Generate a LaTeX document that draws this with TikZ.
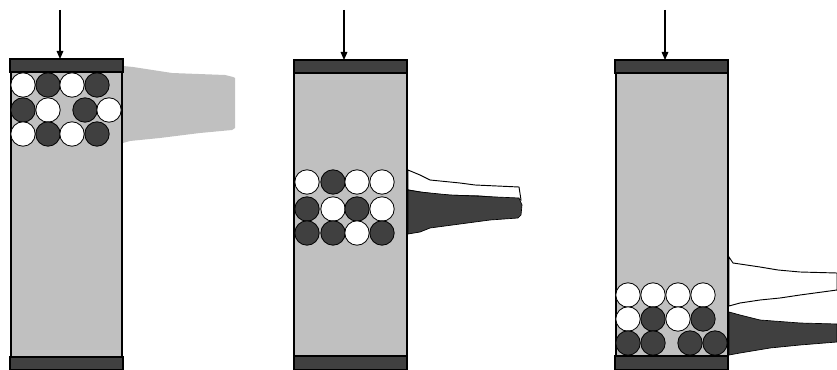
\documentclass[tikz,border=0pt]{standalone}
\usetikzlibrary{arrows.meta}
\definecolor{colgray}{HTML}{C0C0C0}
\definecolor{darkball}{HTML}{404040}
\tikzset{
  colbody/.style={fill=colgray, draw=black, line width=0.8pt},
  capbar/.style={fill=darkball, draw=black, line width=0.8pt},
  wball/.style={circle, fill=white, draw=black, line width=0.6pt, minimum size=18.3pt, inner sep=0pt},
  dball/.style={circle, fill=darkball, draw=black, line width=0.6pt, minimum size=18.3pt, inner sep=0pt},
  load/.style={-{Triangle[length=6pt,width=5pt]}, line width=0.8pt},
  lightprof/.style={fill=colgray, draw=none},
  whiteprof/.style={fill=white, draw=black, line width=0.7pt},
  darkprof/.style={fill=darkball, draw=black, line width=0.5pt},
}
\begin{document}
\begin{tikzpicture}[x=0.75pt,y=-0.75pt]
\useasboundingbox (0,0) rectangle (837,370);
% ---------- column 1 ----------
\path[lightprof] (123,66) -- (133,67) -- (172,73) -- (225,75) -- (233,77) -- (235,78) -- (235,128) -- (232,130) -- (200,133) -- (160,138) -- (130,141) -- (123,143) -- cycle;
\draw[colbody] (11,72) rectangle (122,357);
\draw[capbar] (10,59) rectangle (123,72);
\draw[capbar] (10,357) rectangle (123,370);
\node[wball] (a11) at (23,85) {};
\node[dball] (a12) at (48,85) {};
\node[wball] (a13) at (72,85) {};
\node[dball] (a14) at (97,85) {};
\node[dball] (a21) at (23,110) {};
\node[wball] (a22) at (48,110) {};
\node[dball] (a23) at (85,110) {};
\node[wball] (a24) at (109,110) {};
\node[wball] (a31) at (23,134) {};
\node[dball] (a32) at (48,134) {};
\node[wball] (a33) at (72,134) {};
\node[dball] (a34) at (97,134) {};
\coordinate (s1) at (60,10);
\coordinate (e1) at (60,59);
\draw[load] (s1) -- (e1);
% ---------- column 2 ----------
\path[whiteprof] (408,170) -- (420,175) -- (430,180) -- (460,183) -- (475,185) -- (519,187) -- (521,200) -- (480,196) -- (440,195) -- (420,192) -- (408,190) -- cycle;
\path[darkprof] (408,190) -- (420,192) -- (450,195) -- (519,198) -- (522,205) -- (521,215) -- (518,218) -- (490,220) -- (460,224) -- (430,228) -- (420,232) -- (408,234) -- cycle;
\draw[colbody] (294,73) rectangle (407,356);
\draw[capbar] (294,60) rectangle (407,73);
\draw[capbar] (294,356) rectangle (407,370);
\node[wball] (b11) at (307,182) {};
\node[dball] (b12) at (333,182) {};
\node[wball] (b13) at (357,182) {};
\node[wball] (b14) at (382,182) {};
\node[dball] (b21) at (307,209) {};
\node[wball] (b22) at (333,209) {};
\node[dball] (b23) at (357,209) {};
\node[wball] (b24) at (382,209) {};
\node[dball] (b31) at (307,233) {};
\node[dball] (b32) at (333,233) {};
\node[wball] (b33) at (357,233) {};
\node[dball] (b34) at (382,233) {};
\coordinate (s2) at (344,10);
\coordinate (e2) at (344,60);
\draw[load] (s2) -- (e2);
% ---------- column 3 ----------
\path[whiteprof] (729,257) -- (733,263) -- (760,267) -- (778,270) -- (800,272) -- (837,273) -- (837,290) -- (800,295) -- (780,298) -- (760,300) -- (740,303) -- (729,306) -- cycle;
\path[darkprof] (729,312) -- (740,315) -- (760,320) -- (800,323) -- (837,324) -- (837,342) -- (800,345) -- (770,348) -- (740,353) -- (729,355) -- cycle;
\draw[colbody] (616,73) rectangle (728,356);
\draw[capbar] (615,60) rectangle (728,73);
\draw[capbar] (615,356) rectangle (728,370);
\node[wball] (c11) at (628,295) {};
\node[wball] (c12) at (653,295) {};
\node[wball] (c13) at (678,295) {};
\node[wball] (c14) at (703,295) {};
\node[wball] (c21) at (628,319) {};
\node[dball] (c22) at (653,319) {};
\node[wball] (c23) at (678,319) {};
\node[dball] (c24) at (703,319) {};
\node[dball] (c31) at (628,343) {};
\node[dball] (c32) at (653,343) {};
\node[dball] (c33) at (690,343) {};
\node[dball] (c34) at (715,343) {};
\coordinate (s3) at (665,10);
\coordinate (e3) at (665,60);
\draw[load] (s3) -- (e3);
\end{tikzpicture}
\end{document}
